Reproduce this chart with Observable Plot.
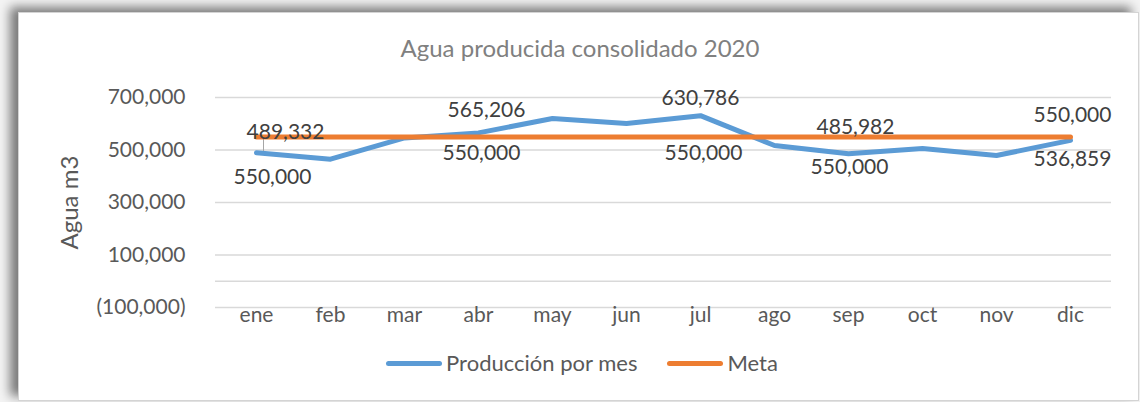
<!DOCTYPE html>
<html>
<head>
<meta charset="utf-8">
<script src="https://cdn.jsdelivr.net/npm/d3@7"></script>
<script src="https://cdn.jsdelivr.net/npm/@observablehq/plot@0.6"></script>
<style>
  html, body { margin: 0; padding: 0; background: #ffffff; }
  #page { position: relative; width: 1140px; height: 402px; overflow: hidden; background: #f4f4f4; font-family: Lato, "Open Sans", sans-serif; }
  #frame { position: absolute; left: 18px; top: 12px; width: 1119px; height: 387px; background: #fff; border: 1px solid #d4d4d4;
           box-shadow: -8px -5px 10px rgba(0,0,0,0.5); }
  #title { position: absolute; left: 20px; width: 1120px; top: 33px; text-align: center; font-size: 24px; line-height: 30px; color: #808080; }
  #chart { position: absolute; left: 0; top: 70px; }
  #legend { position: absolute; left: 0; width: 1164px; top: 349px; display: flex; justify-content: center; align-items: center; font-size: 22px; line-height: 28px; color: #595959; }
  .sw { display: inline-block; width: 56px; height: 5px; border-radius: 3px; margin-right: 4px; }
  .item { display: flex; align-items: center; margin: 0 15px; }
</style>
</head>
<body>
<div id="page">
  <div id="frame"></div>
  <div id="title">Agua producida consolidado 2020</div>
  <div id="chart"></div>
  <div id="legend"></div>
</div>
<script>
// ---- data ----
const months = ["ene","feb","mar","abr","may","jun","jul","ago","sep","oct","nov","dic"];
const produccion = [489332, 465000, 546000, 565206, 620000, 601000, 630786, 517000, 485982, 506000, 479000, 536859];
const metaValues = [550000, 550000, 550000, 550000, 550000, 550000, 550000, 550000, 550000, 550000, 550000, 550000];
const yTicks = [-100000, 100000, 300000, 500000, 700000];
const labeledMonths = ["ene","abr","jul","sep","dic"];
const seriesNames = ["Producción por mes", "Meta"];

// ---- styles ----
const blue = "#5b9bd5", orange = "#ed7d31";
// Excel-style label offsets (px) for each labelled month
const prodOffsets = {ene: [29, -21], abr: [8, -23], jul: [0, -17], sep: [7, -26], dic: [2, 19]};
const metaOffsets = {ene: [16, 40], abr: [3, 16], jul: [3, 16], sep: [1, 30], dic: [2, -22]};

const prodData = months.map((m, i) => ({month: m, value: produccion[i]}));
const metaData = months.map((m, i) => ({month: m, value: metaValues[i]}));

const fmt = d3.format(",");
const fmtAcct = v => v < 0 ? `(${fmt(-v)})` : fmt(v);

const labelMarks = [];
for (const m of labeledMonths) {
  const p = prodData.find(d => d.month === m);
  const q = metaData.find(d => d.month === m);
  labelMarks.push(Plot.text([p], {x: "month", y: "value", text: d => fmt(d.value), dx: prodOffsets[m][0], dy: prodOffsets[m][1], fill: "#404040", fontSize: 21}));
  labelMarks.push(Plot.text([q], {x: "month", y: "value", text: d => fmt(d.value), dx: metaOffsets[m][0], dy: metaOffsets[m][1], fill: "#404040", fontSize: 21}));
}
const eneP = prodData[0];

const chart = Plot.plot({
  width: 1140,
  height: 265,
  marginLeft: 215,
  marginRight: 29,
  marginTop: 27,
  marginBottom: 28,
  style: {fontFamily: "Lato, 'Open Sans', sans-serif", fontSize: "21px", color: "#595959", background: "transparent"},
  x: {type: "point", domain: months, padding: 0.5, label: null},
  y: {domain: [-100000, 700000], label: null},
  marks: [
    Plot.ruleY(yTicks, {stroke: "#d9d9d9", strokeWidth: 1.5}),
    Plot.ruleY([0], {stroke: "#d9d9d9", strokeWidth: 1.5}),
    Plot.axisY({ticks: yTicks, tickFormat: fmtAcct, tickSize: 0, tickPadding: 30, fontSize: 21, label: null, fill: "#595959"}),
    Plot.axisX({tickSize: 0, tickPadding: 0, fontSize: 21, label: null, fill: "#595959"}),
    Plot.text(["Agua m3"], {frameAnchor: "left", dx: -145, dy: 47, rotate: -90, fontSize: 24, fill: "#595959"}),
    Plot.ruleX([eneP], {x: "month", y1: 550000, y2: "value", dx: 7, stroke: "#a6a6a6", strokeWidth: 1}),
    Plot.line(prodData, {x: "month", y: "value", stroke: blue, strokeWidth: 5, strokeLinecap: "round", strokeLinejoin: "round"}),
    Plot.line(metaData, {x: "month", y: "value", stroke: orange, strokeWidth: 5, strokeLinecap: "round", strokeLinejoin: "round"}),
    ...labelMarks
  ]
});
document.getElementById("chart").appendChild(chart);

const legend = document.getElementById("legend");
[[seriesNames[0], blue], [seriesNames[1], orange]].forEach(([name, col]) => {
  const it = document.createElement("div");
  it.className = "item";
  it.innerHTML = `<span class="sw" style="background:${col}"></span><span>${name}</span>`;
  legend.appendChild(it);
});
</script>
</body>
</html>
